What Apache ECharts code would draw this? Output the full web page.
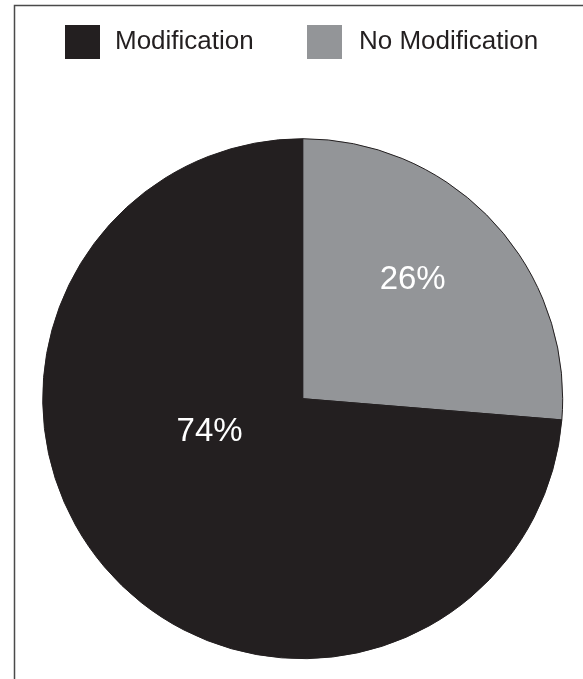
<!DOCTYPE html>
<html>
<head>
<meta charset="utf-8">
<script src="https://cdn.jsdelivr.net/npm/echarts@6/dist/echarts.min.js"></script>
<style>html,body{margin:0;padding:0;background:#fff;}#c{width:583px;height:679px;}</style>
</head>
<body>
<div id="c"></div>
<script>
const categories = ['No Modification', 'Modification'];
const values = [26.3, 73.7];
const colors = ['#939598', '#231f20'];
const legendOrder = ['Modification', 'No Modification'];

const cx = 302.7, cy = 398.7, R = 260;
// label offsets as fraction of radius from center
const labelOffsets = [[0.423, -0.457], [-0.358, 0.128]];

const chart = echarts.init(document.getElementById('c'), null, {renderer: 'canvas'});
const legendText = {fontFamily: 'Liberation Sans, Arial, sans-serif', fontSize: 26, color: '#231f20'};
chart.setOption({
  animation: false,
  backgroundColor: '#fff',
  graphic: [{
    type: 'rect',
    shape: {x: 14.5, y: 5.5, width: 700, height: 800},
    style: {fill: 'none', stroke: '#4a4a4a', lineWidth: 1.5},
    z: 100
  }],
  legend: [{
    data: [legendOrder[0]],
    left: 65, top: 25, padding: 0,
    itemWidth: 35, itemHeight: 34,
    icon: 'rect',
    itemStyle: {borderWidth: 0},
    textStyle: Object.assign({padding: [0, 0, 0, 10]}, legendText)
  }, {
    data: [legendOrder[1]],
    left: 307, top: 25, padding: 0,
    itemWidth: 35, itemHeight: 34,
    icon: 'rect',
    itemStyle: {borderWidth: 0},
    textStyle: Object.assign({padding: [0, 0, 0, 12]}, legendText)
  }],
  series: [{
    type: 'pie',
    center: [cx, cy],
    radius: R,
    startAngle: 90,
    clockwise: true,
    silent: true,
    data: categories.map((n, i) => ({name: n, value: values[i], itemStyle: {color: colors[i]}})),
    itemStyle: {borderColor: '#231f20', borderWidth: 1},
    label: {
      show: true,
      position: 'inside',
      formatter: p => Math.round(p.value) + '%',
      color: '#fff',
      fontFamily: 'Liberation Sans, Arial, sans-serif',
      fontSize: 33
    },
    labelLine: {show: false},
    labelLayout: function (params) {
      const o = labelOffsets[params.dataIndex];
      return {x: cx + o[0] * R, y: cy + o[1] * R, align: 'center', verticalAlign: 'middle'};
    }
  }]
});
</script>
</body>
</html>
